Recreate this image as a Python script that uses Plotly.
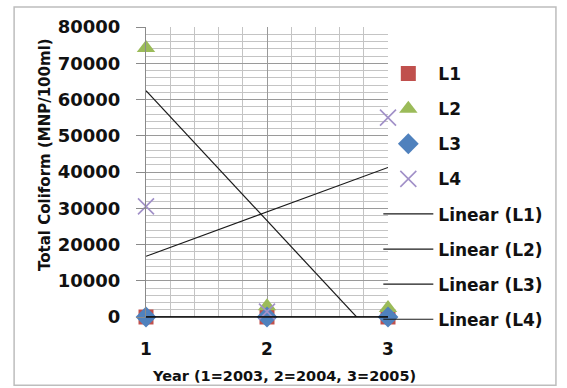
import numpy as np
import plotly.graph_objects as go

# Sampling year index (1=2003, 2=2004, 3=2005)
years = [1, 2, 3]

# Total coliform counts (MNP/100ml) per location
l1 = [0, 0, 0]
l2 = [74200, 3000, 2500]
l3 = [0, 0, 0]
l4 = [30500, 1500, 55000]

series_names = ["L1", "L2", "L3", "L4"]
series_values = [l1, l2, l3, l4]

y_ticks = [0, 10000, 20000, 30000, 40000, 50000, 60000, 70000, 80000]
x_ticks = [1, 2, 3]

marker_styles = [
    dict(symbol="square", size=15, color="#C0504D"),
    dict(symbol="triangle-up", size=16, color="#9BBB59"),
    dict(symbol="diamond", size=16, color="#4F81BD"),
    dict(symbol="x-thin", size=16, color="#A190C8",
         line=dict(color="#A190C8", width=1.6)),
]

BOLD = dict(family="DejaVu Sans", weight="bold", color="#111111")

fig = go.Figure()

# Scatter markers for each location
for i, (name, vals, mk) in enumerate(zip(series_names, series_values, marker_styles)):
    fig.add_trace(go.Scatter(
        x=years, y=vals, name=name, mode="markers", marker=mk,
        cliponaxis=False, legendgroup=f"g{i}",
    ))

# Least-squares linear trend for each location
x_fit = np.array([min(years), max(years)], dtype=float)
for i, (name, vals) in enumerate(zip(series_names, series_values)):
    slope, intercept = np.polyfit(years, vals, 1)
    y_fit = slope * x_fit + intercept
    flat = bool(np.allclose(y_fit, 0))
    fig.add_trace(go.Scatter(
        x=x_fit, y=y_fit, name=f"Linear ({name})", mode="lines",
        line=dict(color="#1a1a1a", width=1.2),
        cliponaxis=not flat, legendgroup=f"t{i}",
    ))

fig.update_layout(
    width=567, height=388,
    margin=dict(l=146, r=179, t=27, b=71),
    plot_bgcolor="white", paper_bgcolor="white",
    showlegend=True,
    legend=dict(
        x=0.96, xanchor="left", y=0.90, yanchor="top",
        font=dict(size=17, **BOLD),
        traceorder="grouped", tracegroupgap=10,
        bgcolor="rgba(0,0,0,0)", itemwidth=50,
    ),
    xaxis=dict(
        range=[1, 3], tickvals=x_ticks, ticktext=[str(v) for v in x_ticks],
        showgrid=True, gridcolor="#9a9a9a", gridwidth=1,
        minor=dict(dtick=0.2, showgrid=True, gridcolor="#c4c4c4", gridwidth=1),
        zeroline=False, showline=False,
        tickfont=dict(size=17, **BOLD), ticklabelstandoff=20,
    ),
    yaxis=dict(
        range=[0, 80000], tickvals=y_ticks, ticktext=[str(v) for v in y_ticks],
        showgrid=True, gridcolor="#9a9a9a", gridwidth=1,
        minor=dict(dtick=2000, showgrid=True, gridcolor="#c4c4c4", gridwidth=1),
        zeroline=False, showline=True, linecolor="#8a8a8a", linewidth=1,
        ticks="outside", ticklen=9, tickcolor="#8a8a8a",
        tickfont=dict(size=18, **BOLD), ticklabelstandoff=12,
    ),
    shapes=[
        # outer chart frame
        dict(type="rect", xref="paper", yref="paper",
             x0=-0.545, x1=1.694, y0=-0.235, y1=1.069,
             line=dict(color="#bdbdbd", width=1.5), layer="below"),
        # bottom axis line
        dict(type="line", xref="paper", yref="paper", x0=0, x1=1, y0=0, y1=0,
             line=dict(color="#111111", width=1.5)),
    ],
    annotations=[
        dict(text="Total Coliform (MNP/100ml)", textangle=-90,
             xref="paper", yref="paper", x=(45 - 146) / 242, y=(317 - 155) / 290,
             xanchor="center", yanchor="middle",
             showarrow=False, font=dict(size=15, **BOLD)),
        dict(text="Year (1=2003, 2=2004, 3=2005)",
             xref="paper", yref="paper", x=(284 - 146) / 242, y=(317 - 376) / 290,
             xanchor="center", yanchor="middle",
             showarrow=False, font=dict(size=14.5, **BOLD)),
    ],
)

fig.write_html("out.html")
